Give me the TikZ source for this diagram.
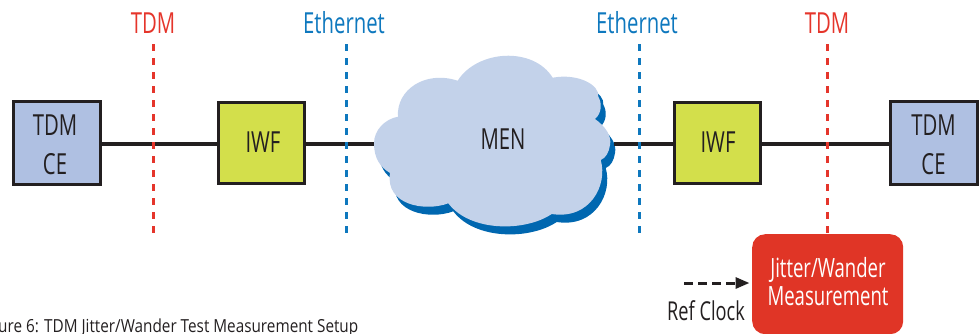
\documentclass[tikz,border=0pt]{standalone}
\usepackage{fontspec}
\setmainfont[FakeStretch=0.7]{Open Sans}
\newfontfamily\capfont[FakeStretch=0.85]{Open Sans}
\usetikzlibrary{arrows.meta}
\definecolor{ceblue}{HTML}{AFC0E2}
\definecolor{iwflime}{HTML}{D3DF4B}
\definecolor{cloudfill}{HTML}{C3D2EA}
\definecolor{cloudshade}{HTML}{0067B0}
\definecolor{boxred}{HTML}{E03526}
\definecolor{labelred}{HTML}{E5352B}
\definecolor{labelblue}{HTML}{0E78BE}
\definecolor{ink}{HTML}{231F20}
\newcommand{\cloudshape}{(374,143.3) .. controls (374,130) and (385,119) .. (398,116.7) .. controls (396,90) and (425,70) .. (457.7,80.7) .. controls (477,50) and (533,46) .. (552.7,77.7) .. controls (578,73) and (600,85) .. (598.3,96.7) .. controls (602,103) and (602,113) .. (595,119) .. controls (605,126) and (612,136) .. (610,145) .. controls (609,152) and (606,158) .. (600.7,160) .. controls (608,185) and (590,220) .. (551.7,214) .. controls (525,232) and (470,232) .. (448.3,203.3) .. controls (425,212) and (385,205) .. (390,173) .. controls (380,167) and (374,158) .. (374,143.3) -- cycle}
\tikzset{
  every node/.style={font=\fontsize{29}{39}\selectfont, text=ink, align=center},
  cebox/.style={draw=ink, line width=3.3pt, fill=ceblue, minimum width=87pt, minimum height=83pt, inner sep=0pt},
  iwfbox/.style={draw=ink, line width=3.3pt, fill=iwflime, minimum width=86pt, minimum height=81pt, inner sep=0pt},
  measbox/.style={fill=boxred, rounded corners=13pt, minimum width=151pt, minimum height=100pt, inner sep=0pt},
  link/.style={draw=ink, line width=3.5pt},
  probe/.style={line width=3pt, dash pattern=on 7pt off 7pt},
  redlabel/.style={text=labelred},
  bluelabel/.style={text=labelblue},
  meastext/.style={text=white, font=\fontsize{26.5}{28}\selectfont},
}
\begin{document}
\begin{tikzpicture}[x=1pt,y=-1pt]
\useasboundingbox (0,0) rectangle (980,333);
\clip (0,0) rectangle (980,333);
\fill[cloudshade, shift={(5,8)}] \cloudshape;
\fill[cloudfill] \cloudshape;
\node (men) at (503,139.5) {MEN};
\coordinate (cl) at (374,144);
\coordinate (cr) at (614,144);
\node[cebox] (ce1) at (57,143) {};
\node[iwfbox] (iwf1) at (261.5,143) {};
\node[iwfbox] (iwf2) at (717.5,143) {};
\node[cebox] (ce2) at (934,143) {};
\node (ce1t) at (55,144.5) {TDM\\CE};
\node (iwf1t) at (263,142.5) {IWF};
\node (iwf2t) at (718,142.5) {IWF};
\node (ce2t) at (933.5,144.5) {TDM\\CE};
\node[measbox, anchor=north west] (meas) at (752,234) {};
\node[meastext] (meast) at (828,281.5) {Jitter/Wander\\Measurement};
\draw[link] (ce1.east |- cl) -- (iwf1.west |- cl);
\draw[link] (iwf1.east |- cl) -- (cl);
\draw[link] (cr) -- (iwf2.west |- cr);
\draw[link] (iwf2.east |- cr) -- (ce2.west |- cr);
\node[redlabel] (t1) at (153,23) {TDM};
\node[bluelabel] (e1) at (344,23) {Ethernet};
\node[bluelabel] (e2) at (637,23) {Ethernet};
\node[redlabel] (t2) at (827,23) {TDM};
\coordinate (t1b) at (153.5,235);
\coordinate (e1b) at (346,235);
\coordinate (e2b) at (639,235);
\coordinate (t1t) at (153.5,44);
\coordinate (e1t) at (346,44);
\coordinate (e2t) at (639,44);
\coordinate (t2t) at (827,44);
\draw[probe, labelred] (t1t) -- (t1b);
\draw[probe, labelblue] (e1t) -- (e1b);
\draw[probe, labelblue] (e2t) -- (e2b);
\draw[probe, labelred] (t2t) -- (t2t |- meas.north);
\coordinate (rc) at (684,283);
\coordinate (rce) at (749.5,283);
\draw[draw=ink, line width=3pt, dash pattern=on 9pt off 5pt, -{Triangle[length=14pt,width=11pt]}] (rc) -- (rce);
\node (reflabel) at (706,311) {\fontsize{26}{30}\selectfont Ref Clock};
\node[anchor=base west, inner sep=0pt] (cap) at (-2,332) {\capfont\fontsize{18}{20}\selectfont ure 6: TDM Jitter/Wander Test Measurement Setup};
\end{tikzpicture}
\end{document}
